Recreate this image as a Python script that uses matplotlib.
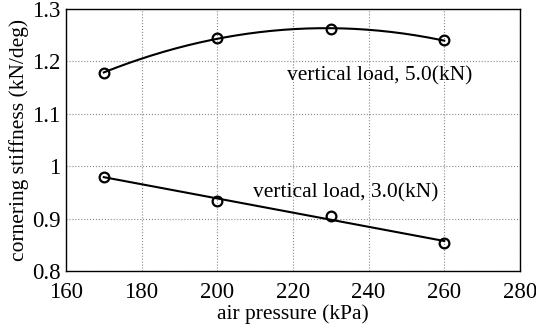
import matplotlib
matplotlib.use('Agg')
import matplotlib.pyplot as plt
import numpy as np

plt.rcParams['font.family'] = ['Liberation Serif', 'DejaVu Serif']
plt.rcParams['mathtext.fontset'] = 'stix'

# measured points
pressure = [170, 200, 230, 260]
stiff_5kn = [1.178, 1.245, 1.261, 1.240]
stiff_3kn = [0.980, 0.933, 0.905, 0.854]
xticks = [160, 180, 200, 220, 240, 260, 280]
yticks = [0.8, 0.9, 1.0, 1.1, 1.2, 1.3]
yticklabels = ['0.8', '0.9', '1', '1.1', '1.2', '1.3']

fig = plt.figure(figsize=(5.36, 3.28), dpi=100)
ax = fig.add_axes([0.123, 0.174, 0.847, 0.799])

# fitted curves: quadratic for 5 kN, linear for 3 kN
xf = np.linspace(pressure[0], pressure[-1], 200)
p5 = np.polyfit(pressure, stiff_5kn, 2)
p3 = np.polyfit(pressure, stiff_3kn, 1)
ax.plot(xf, np.polyval(p5, xf), color='black', lw=1.5, zorder=3)
ax.plot(xf, np.polyval(p3, xf), color='black', lw=1.5, zorder=3)

for ys in (stiff_5kn, stiff_3kn):
    ax.plot(pressure, ys, linestyle='none', marker='o', ms=7, mfc='none',
            mec='black', mew=1.6, zorder=4)

ax.text(218.5, 1.172, 'vertical load, 5.0(kN)', fontsize=15.5, va='center', ha='left')
ax.text(209.5, 0.949, 'vertical load, 3.0(kN)', fontsize=15.5, va='center', ha='left')

ax.set_xlim(160, 280)
ax.set_ylim(0.8, 1.3)
ax.set_xticks(xticks)
ax.set_yticks(yticks)
ax.set_yticklabels(yticklabels)
ax.tick_params(length=0, labelsize=16.5)
ax.tick_params(axis='x', pad=8)
ax.tick_params(axis='y', pad=4)
ax.grid(True, color='#888888', linestyle=':', linewidth=0.8)
ax.set_axisbelow(True)
for s in ax.spines.values():
    s.set_linewidth(1.0)

ax.set_xlabel('air pressure (kPa)', fontsize=15.5, labelpad=1)
ax.set_ylabel('cornering stiffness (kN/deg)', fontsize=15.5, labelpad=2)

fig.savefig('out.png', dpi=100)
